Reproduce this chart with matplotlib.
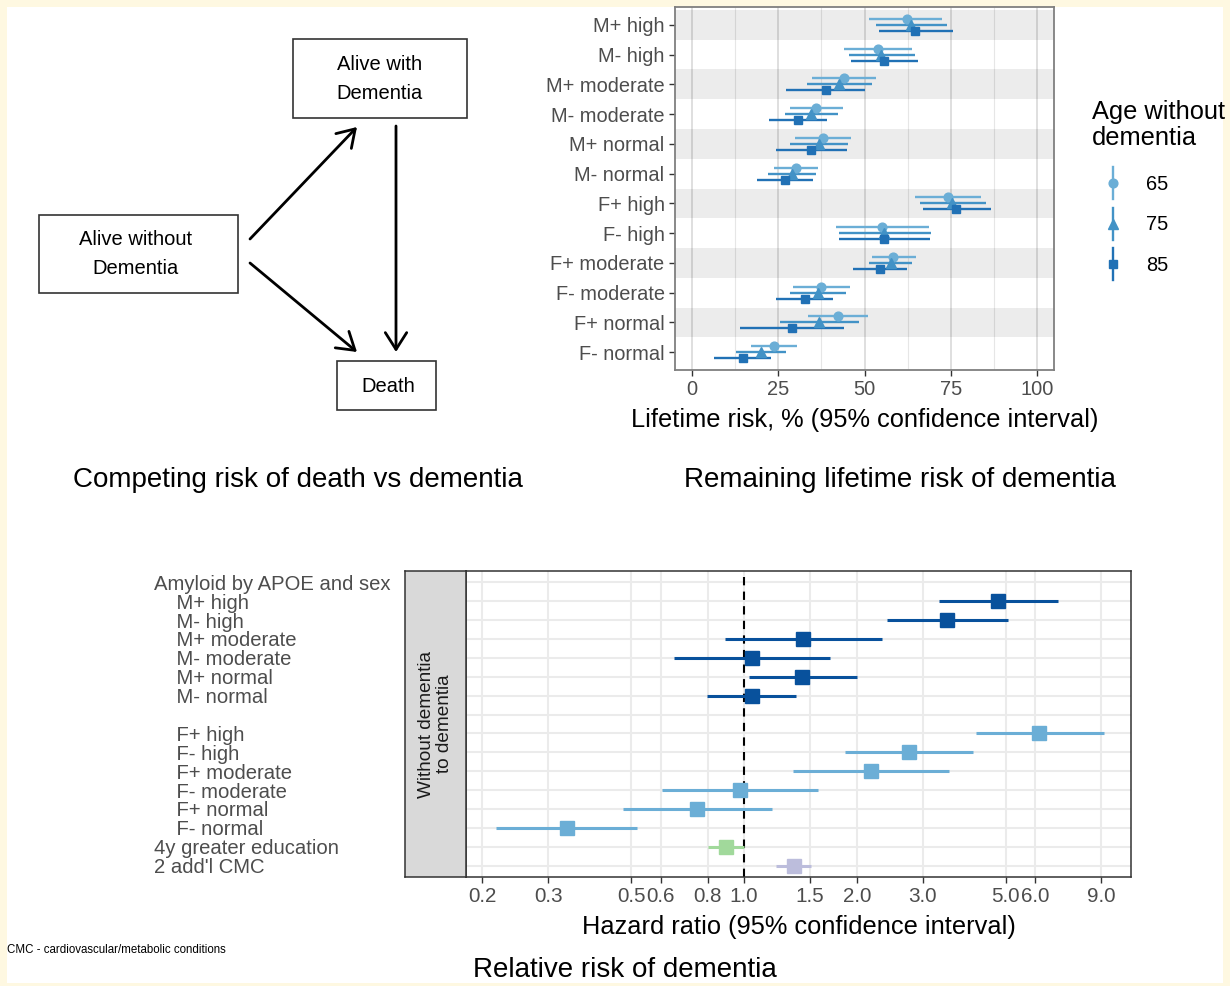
import numpy as np
import matplotlib.pyplot as plt
from matplotlib.patches import Rectangle, FancyArrowPatch
from matplotlib.lines import Line2D
from matplotlib.legend_handler import HandlerBase
from matplotlib.ticker import NullLocator, MultipleLocator

plt.rcParams['font.family'] = ['Liberation Sans', 'DejaVu Sans']

# Remaining lifetime risk (%) by group and age without dementia
groups = ["M+ high", "M- high", "M+ moderate", "M- moderate", "M+ normal", "M- normal",
          "F+ high", "F- high", "F+ moderate", "F- moderate", "F+ normal", "F- normal"]
ages = ["65", "75", "85"]
risk_65 = [62.3, 53.9, 44.0, 36.0, 38.0, 30.1, 74.2, 55.2, 58.4, 37.5, 42.3, 23.7]
lo_65 = [51.2, 44.1, 34.9, 28.5, 29.9, 23.7, 64.6, 41.6, 52.2, 29.3, 33.7, 17.1]
hi_65 = [72.6, 63.7, 53.4, 43.7, 46.1, 36.5, 83.9, 68.6, 64.9, 45.8, 50.9, 30.3]
risk_75 = [63.6, 54.9, 42.7, 34.6, 36.7, 29.0, 75.4, 55.6, 57.8, 36.4, 36.9, 19.9]
lo_75 = [53.4, 45.4, 33.3, 27.0, 28.3, 22.0, 66.2, 42.6, 51.2, 28.3, 25.6, 12.6]
hi_75 = [73.9, 64.7, 52.2, 42.3, 45.2, 35.8, 85.2, 69.4, 63.9, 44.5, 48.4, 27.2]
risk_85 = [64.8, 55.7, 38.7, 30.6, 34.6, 27.0, 76.7, 55.8, 54.6, 32.8, 29.0, 14.7]
lo_85 = [54.1, 46.2, 27.1, 22.2, 24.3, 18.8, 67.0, 42.6, 46.8, 24.4, 14.0, 6.4]
hi_85 = [75.6, 65.5, 50.2, 39.2, 44.9, 35.1, 86.7, 69.0, 62.3, 41.0, 44.0, 22.9]

# Hazard ratios, without dementia -> dementia
hr_labels = ["Amyloid by APOE and sex", "    M+ high", "    M- high", "    M+ moderate",
             "    M- moderate", "    M+ normal", "    M- normal", "",
             "    F+ high", "    F- high", "    F+ moderate", "    F- moderate",
             "    F+ normal", "    F- normal", "4y greater education", "2 add'l CMC"]
hr_group = ["", "M", "M", "M", "M", "M", "M", "", "F", "F", "F", "F", "F", "F", "edu", "cmc"]
hr_est = [np.nan, 4.78, 3.49, 1.44, 1.05, 1.43, 1.05, np.nan,
          6.15, 2.76, 2.18, 0.975, 0.751, 0.336, 0.894, 1.36]
hr_lo = [np.nan, 3.32, 2.41, 0.888, 0.651, 1.03, 0.796, np.nan,
         4.17, 1.86, 1.35, 0.604, 0.475, 0.218, 0.80, 1.22]
hr_hi = [np.nan, 6.88, 5.08, 2.33, 1.70, 2.00, 1.38, np.nan,
         9.15, 4.10, 3.53, 1.58, 1.19, 0.518, 1.00, 1.51]
hr_ticks = [0.2, 0.3, 0.5, 0.6, 0.8, 1.0, 1.5, 2.0, 3.0, 5.0, 6.0, 9.0]

age_colors = ["#6BAED6", "#4292C6", "#2171B5"]
age_markers = ["o", "^", "s"]
group_colors = {"M": "#08519C", "F": "#6BAED6", "edu": "#A1D99B", "cmc": "#BCBDDC"}

W, H = 1230, 986


def px_box(l, t, r, b):
    return [l / W, 1 - b / H, (r - l) / W, (b - t) / H]


class RangeKey(HandlerBase):
    def create_artists(self, legend, orig, xdescent, ydescent, width, height, fontsize, trans):
        cx = width / 2 - xdescent
        cy = height / 2 - ydescent
        half = fontsize * 0.8
        stem = Line2D([cx, cx], [cy - half, cy + half], color=orig.get_color(),
                      lw=orig.get_linewidth(), transform=trans)
        dot = Line2D([cx], [cy], marker=orig.get_marker(), ms=orig.get_markersize(),
                     color=orig.get_color(), ls="none", transform=trans)
        return [stem, dot]


fig = plt.figure(figsize=(W / 100, H / 100), dpi=100)
fig.patch.set_facecolor("#FEF8E1")

# background canvas in pixel coordinates (diagram + titles)
bg = fig.add_axes([0, 0, 1, 1], zorder=-10)
bg.set_xlim(0, W)
bg.set_ylim(H, 0)
bg.axis("off")
page = Rectangle((7, 7), 1216, 976, facecolor="white", edgecolor="none")
bg.add_patch(page)

# competing risk diagram
for (x0, y0, x1, y1) in [(39, 215, 238, 293), (293, 39, 467, 118), (337, 361, 436, 410)]:
    bg.add_patch(Rectangle((x0, y0), x1 - x0, y1 - y0, facecolor="none",
                           edgecolor="#333333", lw=1.2))
bg.text(136, 254, "Alive without\nDementia", ha="center", va="center", fontsize=14.5,
        linespacing=1.65)
bg.text(380, 79, "Alive with\nDementia", ha="center", va="center", fontsize=14.5,
        linespacing=1.65)
bg.text(388, 386, "Death", ha="center", va="center", fontsize=14.5)
for (a, b) in [((250, 239), (357, 127)), ((250, 263), (357, 352)), ((396, 126), (396, 352))]:
    bg.add_patch(FancyArrowPatch(a, b, arrowstyle="->,head_length=0.55,head_width=0.35",
                                 mutation_scale=22, lw=2, color="black",
                                 shrinkA=0, shrinkB=0))

bg.text(298, 487, "Competing risk of death vs dementia", ha="center", va="baseline",
        fontsize=20)
bg.text(900, 487, "Remaining lifetime risk of dementia", ha="center", va="baseline",
        fontsize=20)
bg.text(625, 977, "Relative risk of dementia", ha="center", va="baseline", fontsize=20)
bg.text(7, 950, "CMC - cardiovascular/metabolic conditions", ha="left", va="center",
        fontsize=8.3)

# ---- lifetime risk panel
ax1 = fig.add_axes(px_box(675, 7, 1054, 370))
ypos = np.arange(len(groups))
for i in ypos[::2]:
    ax1.axhspan(i - 0.5, i + 0.5, color="black", alpha=0.075, lw=0, zorder=1)
ax1.xaxis.set_major_locator(MultipleLocator(25))
ax1.xaxis.set_minor_locator(MultipleLocator(12.5))
ax1.grid(axis="x", which="major", color="#DCDCDC", lw=1.3, zorder=0)
ax1.grid(axis="x", which="minor", color="#E6E6E6", lw=0.8, zorder=0)
ax1.set_axisbelow(True)

series = [(risk_65, lo_65, hi_65), (risk_75, lo_75, hi_75), (risk_85, lo_85, hi_85)]
handles = []
for k, (est, lo, hi) in enumerate(series):
    est, lo, hi = np.array(est), np.array(lo), np.array(hi)
    yk = ypos + (k - 1) * 0.2
    ms = 6.8 if age_markers[k] == "^" else 6.3
    ax1.errorbar(est, yk, xerr=[est - lo, hi - est], fmt=age_markers[k], color=age_colors[k],
                 ms=ms, elinewidth=1.7, capsize=0, zorder=3)
    handles.append(Line2D([], [], color=age_colors[k], marker=age_markers[k], ms=ms, lw=1.7))

ax1.set_xlim(-5, 105)
ax1.set_ylim(len(groups) - 0.4, -0.6)
ax1.set_yticks(ypos)
ax1.set_yticklabels(groups)
ax1.tick_params(axis="both", which="major", labelsize=14.4, labelcolor="#4D4D4D",
                color="#333333", length=4, width=1)
ax1.tick_params(axis="x", which="minor", length=0)
for s in ax1.spines.values():
    s.set_color("#7F7F7F")
    s.set_linewidth(1.3)
ax1.set_xlabel("Lifetime risk, % (95% confidence interval)", fontsize=18.3, labelpad=6)

leg = ax1.legend(handles, ages, title="Age without\ndementia", handler_map={Line2D: RangeKey()},
                 loc="upper left", bbox_to_anchor=(1092 / W, 1 - 100 / H),
                 bbox_transform=fig.transFigure, frameon=False, alignment="left",
                 fontsize=14.4, title_fontsize=18.3, borderpad=0, borderaxespad=0,
                 handlelength=2.1, handletextpad=0.6, labelspacing=1.08)
leg.get_title().set_linespacing(1.1)
leg._legend_box.sep = 18

# ---- hazard ratio panel
ax2 = fig.add_axes(px_box(466, 571, 1131, 877))
ax2.set_xscale("log")
rows = np.arange(len(hr_labels))
ax2.axvline(1.0, color="black", ls=(0, (4, 3)), lw=1.5, zorder=2)
for g, color in group_colors.items():
    idx = [i for i, gg in enumerate(hr_group) if gg == g]
    est = np.array([hr_est[i] for i in idx])
    lo = np.array([hr_lo[i] for i in idx])
    hi = np.array([hr_hi[i] for i in idx])
    ax2.errorbar(est, rows[idx], xerr=[est - lo, hi - est], fmt="s", color=color, ms=9.5,
                 elinewidth=2.2, capsize=0, zorder=3)
ax2.set_xlim(0.181, 10.8)
ax2.set_ylim(len(hr_labels) - 0.4, -0.6)
ax2.set_xticks(hr_ticks)
ax2.set_xticklabels([f"{v:.1f}" for v in hr_ticks])
ax2.xaxis.set_minor_locator(NullLocator())
ax2.set_yticks(rows)
ax2.set_yticklabels(hr_labels)
for lab in ax2.get_yticklabels():
    lab.set_horizontalalignment("left")
ax2.grid(True, color="#EBEBEB", lw=1.5, zorder=0)
ax2.set_axisbelow(True)
ax2.tick_params(axis="y", length=0, pad=(466 - 154) * 0.72, labelsize=14.6, labelcolor="#4D4D4D")
ax2.tick_params(axis="x", length=4, width=1, color="#333333", labelsize=14.9,
                labelcolor="#4D4D4D")
for s in ax2.spines.values():
    s.set_color("#333333")
    s.set_linewidth(1.1)
ax2.set_xlabel("Hazard ratio (95% confidence interval)", fontsize=18.3, labelpad=6)

# facet strip on the left
strip = fig.add_axes(px_box(405, 571, 466, 877))
strip.set_facecolor("#D9D9D9")
strip.set_xticks([])
strip.set_yticks([])
for s in strip.spines.values():
    s.set_color("#333333")
    s.set_linewidth(1.1)
strip.text(0.5, 0.5, "Without dementia\nto dementia", rotation=90, ha="center", va="center",
           fontsize=13.7, color="#1A1A1A", linespacing=1.1, transform=strip.transAxes)

fig.savefig("out.png", dpi=100, facecolor=fig.get_facecolor())
